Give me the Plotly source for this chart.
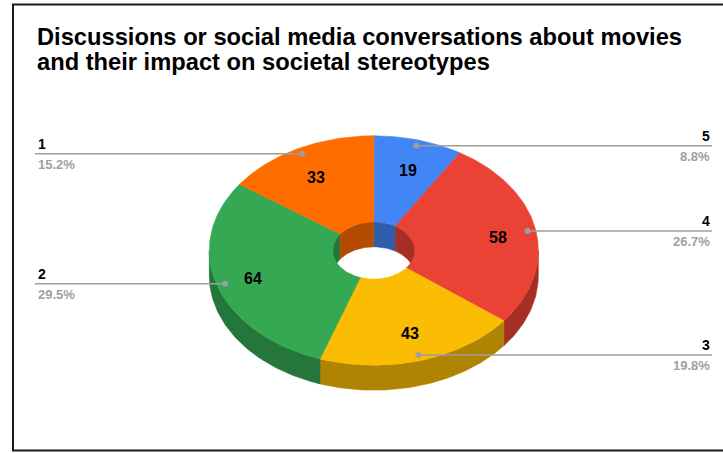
import math
import plotly.graph_objects as go

# Survey responses, listed in the order the slices run clockwise from 12 o'clock
labels = ["5", "4", "3", "2", "1"]
values = [19, 58, 43, 64, 33]
top_colors = ["#4285F4", "#EA4335", "#FBBC04", "#34A853", "#FF6D01"]
side_colors = ["#2E5DAB", "#A52F25", "#B08403", "#24763A", "#B34C01"]

title_lines = [
    "Discussions or social media conversations about movies",
    "and their impact on societal stereotypes",
]

W, H = 723, 453
# tilted donut geometry in page pixels
CX, CY = 373.8, 250.5
RX, RY = 164.5, 114.7
DEPTH = 25
HOLE = 0.25

FONT = "Liberation Sans, Arial, sans-serif"

total = sum(values)
bounds = [0.0]
for v in values:
    bounds.append(bounds[-1] + v / total * 360.0)


def pt(phi, r=1.0, dy=0.0):
    a = math.radians(phi)
    return CX + RX * r * math.sin(a), CY - RY * r * math.cos(a) + dy


def arc(a, b, r=1.0, dy=0.0, n=None):
    if n is None:
        n = max(2, int(abs(b - a) / 1.0) + 2)
    xs, ys = [], []
    for i in range(n):
        p = a + (b - a) * i / (n - 1)
        x, y = pt(p, r, dy)
        xs.append(x)
        ys.append(y)
    return xs, ys


def overlap(a, b, lo, hi):
    s, e = max(a, lo), min(b, hi)
    return (s, e) if e > s else None


fig = go.Figure()


def poly(xs, ys, color):
    fig.add_trace(go.Scatter(
        x=xs + [xs[0]], y=ys + [ys[0]], mode="lines", fill="toself",
        fillcolor=color, line=dict(color=color, width=0.6),
        hoverinfo="skip", showlegend=False,
    ))


# outer rim (front half only)
for i in range(len(values)):
    seg = overlap(bounds[i], bounds[i + 1], 90, 270)
    if seg:
        tx, ty = arc(seg[0], seg[1])
        bx, by = arc(seg[1], seg[0], dy=DEPTH)
        poly(tx + bx, ty + by, side_colors[i])

# inner wall of the hole (back half only)
for i in range(len(values)):
    for lo, hi in ((0, 90), (270, 360)):
        seg = overlap(bounds[i], bounds[i + 1], lo, hi)
        if seg:
            tx, ty = arc(seg[0], seg[1], r=HOLE)
            bx, by = arc(seg[1], seg[0], r=HOLE, dy=DEPTH)
            poly(tx + bx, ty + by, side_colors[i])

# top faces
for i in range(len(values)):
    ox, oy = arc(bounds[i], bounds[i + 1])
    ix, iy = arc(bounds[i + 1], bounds[i], r=HOLE)
    poly(ox + ix, oy + iy, top_colors[i])

annotations = []
# values printed on the slices
for i, v in enumerate(values):
    mid = (bounds[i] + bounds[i + 1]) / 2
    a = math.radians(mid)
    x = CX + RX * 0.77 * math.sin(a)
    y = CY + 2 - RY * 0.74 * math.cos(a)
    annotations.append(dict(
        x=x, y=y, text=f"<b>{v}</b>", showarrow=False,
        font=dict(family=FONT, size=16, color="#000000"),
        xanchor="center", yanchor="middle",
    ))

# leader lines with category name and share
dot_x, dot_y = [], []
for i, v in enumerate(values):
    mid = (bounds[i] + bounds[i + 1]) / 2
    x0, y0 = pt(mid, 0.95)
    dot_x.append(x0)
    dot_y.append(y0)
    right = mid < 180
    x1 = 712 if right else 35
    fig.add_trace(go.Scatter(
        x=[x0, x1], y=[y0, y0], mode="lines",
        line=dict(color="#9E9E9E", width=1.5),
        hoverinfo="skip", showlegend=False,
    ))
    anchor = "right" if right else "left"
    tx = 712 if right else 36
    annotations.append(dict(
        x=tx, y=y0 - 10, text=f"<b>{labels[i]}</b>", showarrow=False,
        font=dict(family=FONT, size=14, color="#000000"),
        xanchor=anchor, yanchor="middle",
    ))
    annotations.append(dict(
        x=tx, y=y0 + 10.5, text=f"<b>{v / total * 100:.1f}%</b>", showarrow=False,
        font=dict(family=FONT, size=13, color="#A0A0A0"),
        xanchor=anchor, yanchor="middle",
    ))

fig.add_trace(go.Scatter(
    x=dot_x, y=dot_y, mode="markers",
    marker=dict(color="#9E9E9E", size=6),
    hoverinfo="skip", showlegend=False,
))

# chart title
for k, line in enumerate(title_lines):
    annotations.append(dict(
        x=35, y=37 + 25 * k, text=f"<b>{line}</b>", showarrow=False,
        font=dict(family=FONT, size=23.7, color="#000000"),
        xanchor="left", yanchor="middle",
    ))

fig.update_layout(
    width=W, height=H,
    margin=dict(l=0, r=0, t=0, b=0),
    paper_bgcolor="white", plot_bgcolor="white",
    xaxis=dict(range=[0, W], visible=False, fixedrange=True),
    yaxis=dict(range=[H, 0], visible=False, fixedrange=True),
    annotations=annotations,
    shapes=[dict(
        type="rect", xref="x", yref="y",
        x0=13, y0=4.5, x1=740, y1=450.5,
        line=dict(color="#1A1A1A", width=2), fillcolor="rgba(0,0,0,0)",
        layer="above",
    )],
)

fig.write_html("out.html")
